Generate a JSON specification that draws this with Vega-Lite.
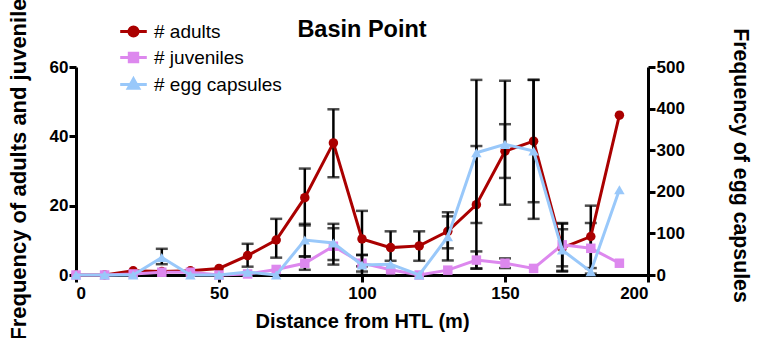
{
  "$schema": "https://vega.github.io/schema/vega-lite/v6.json",
  "autosize": {"type": "none"},
  "width": 572,
  "height": 208,
  "padding": {"left": 76, "top": 67, "right": 115, "bottom": 63},
  "background": "white",
  "title": {"text": "Basin Point", "fontSize": 23.5, "font": "Liberation Sans", "fontWeight": "bold", "color": "black", "anchor": "middle", "frame": "group", "offset": -56},
  "config": {
    "view": {"stroke": null},
    "axis": {"domainColor": "black", "domainWidth": 3, "tickColor": "black", "tickWidth": 3, "tickSize": 7, "labelFont": "Liberation Sans", "labelFontSize": 17, "labelFontWeight": "bold", "labelColor": "black", "titleFont": "Liberation Sans", "titleFontSize": 20, "titleFontWeight": "bold", "titleColor": "black", "grid": false, "labelPadding": 1}
  },
  "datasets": {
    "left": [
      {"d": 0, "s": "# adults", "v": 0},
      {"d": 10, "s": "# adults", "v": 0},
      {"d": 20, "s": "# adults", "v": 1.2},
      {"d": 30, "s": "# adults", "v": 1},
      {"d": 40, "s": "# adults", "v": 1.2},
      {"d": 50, "s": "# adults", "v": 1.9},
      {"d": 60, "s": "# adults", "v": 5.6, "lo": 2.4, "hi": 9},
      {"d": 70, "s": "# adults", "v": 10.1, "lo": 5, "hi": 16.2},
      {"d": 80, "s": "# adults", "v": 22.3, "lo": 14.3, "hi": 30.7},
      {"d": 90, "s": "# adults", "v": 38.1, "lo": 28.2, "hi": 47.8},
      {"d": 100, "s": "# adults", "v": 10.4, "lo": 2.5, "hi": 18.5},
      {"d": 110, "s": "# adults", "v": 7.9, "lo": 4.1, "hi": 12.6},
      {"d": 120, "s": "# adults", "v": 8.4, "lo": 4.1, "hi": 12.6},
      {"d": 130, "s": "# adults", "v": 12.6, "lo": 7.7, "hi": 18.1},
      {"d": 140, "s": "# adults", "v": 20.3, "lo": 1.9, "hi": 37.2},
      {"d": 150, "s": "# adults", "v": 35.7, "lo": 28, "hi": 43.5},
      {"d": 160, "s": "# adults", "v": 38.6, "lo": 21, "hi": 56.3},
      {"d": 170, "s": "# adults", "v": 7.8, "lo": 1, "hi": 15},
      {"d": 180, "s": "# adults", "v": 11.1, "lo": 2, "hi": 20},
      {"d": 190, "s": "# adults", "v": 46.1},
      {"d": 0, "s": "# juveniles", "v": 0},
      {"d": 10, "s": "# juveniles", "v": 0},
      {"d": 20, "s": "# juveniles", "v": 0.3},
      {"d": 30, "s": "# juveniles", "v": 0.8},
      {"d": 40, "s": "# juveniles", "v": 0.8},
      {"d": 50, "s": "# juveniles", "v": 0},
      {"d": 60, "s": "# juveniles", "v": 0.3},
      {"d": 70, "s": "# juveniles", "v": 1.6},
      {"d": 80, "s": "# juveniles", "v": 3.4, "lo": 1.5, "hi": 5.3},
      {"d": 90, "s": "# juveniles", "v": 8.3, "lo": 3, "hi": 13.5},
      {"d": 100, "s": "# juveniles", "v": 3.4, "lo": 1, "hi": 5.8},
      {"d": 110, "s": "# juveniles", "v": 1.5},
      {"d": 120, "s": "# juveniles", "v": 0},
      {"d": 130, "s": "# juveniles", "v": 1.4},
      {"d": 140, "s": "# juveniles", "v": 4.3, "lo": 1.8, "hi": 6.8},
      {"d": 150, "s": "# juveniles", "v": 3.4, "lo": 2, "hi": 4.8},
      {"d": 160, "s": "# juveniles", "v": 1.9},
      {"d": 170, "s": "# juveniles", "v": 8.7, "lo": 2.5, "hi": 14.8},
      {"d": 180, "s": "# juveniles", "v": 7.7, "lo": 0.4, "hi": 15},
      {"d": 190, "s": "# juveniles", "v": 3.4}
    ],
    "eggs": [
      {"d": 0, "s": "# egg capsules", "v": 0},
      {"d": 10, "s": "# egg capsules", "v": 0},
      {"d": 20, "s": "# egg capsules", "v": 0},
      {"d": 30, "s": "# egg capsules", "v": 42, "lo": 26, "hi": 63},
      {"d": 40, "s": "# egg capsules", "v": 0},
      {"d": 50, "s": "# egg capsules", "v": 0},
      {"d": 60, "s": "# egg capsules", "v": 7},
      {"d": 70, "s": "# egg capsules", "v": 0},
      {"d": 80, "s": "# egg capsules", "v": 84, "lo": 45, "hi": 123},
      {"d": 90, "s": "# egg capsules", "v": 77, "lo": 36, "hi": 123},
      {"d": 100, "s": "# egg capsules", "v": 24, "lo": 0, "hi": 48},
      {"d": 110, "s": "# egg capsules", "v": 26},
      {"d": 120, "s": "# egg capsules", "v": 0},
      {"d": 130, "s": "# egg capsules", "v": 92, "lo": 35, "hi": 141},
      {"d": 140, "s": "# egg capsules", "v": 294, "lo": 125, "hi": 469},
      {"d": 150, "s": "# egg capsules", "v": 314, "lo": 169, "hi": 467},
      {"d": 160, "s": "# egg capsules", "v": 298, "lo": 135, "hi": 469},
      {"d": 170, "s": "# egg capsules", "v": 60, "lo": 10, "hi": 110},
      {"d": 180, "s": "# egg capsules", "v": 8},
      {"d": 190, "s": "# egg capsules", "v": 205}
    ]
  },
  "encoding": {
    "x": {"field": "d", "type": "quantitative", "scale": {"domain": [0, 200], "nice": false}, "axis": {"values": [0, 50, 100, 150, 200], "title": "Distance from HTL (m)", "labelPadding": 3, "titlePadding": 10}}
  },
  "layer": [
    {
      "data": {"name": "left"},
      "encoding": {
        "y": {"field": "v", "type": "quantitative", "scale": {"domain": [0, 60], "nice": false}, "axis": {"orient": "left", "values": [0, 20, 40, 60], "title": "Frequency of adults and juveniles", "titleFontSize": 22, "titlePadding": 19, "titleY": 96}}
      },
      "layer": [
        {"transform": [{"filter": "isValid(datum.lo)"}], "mark": {"type": "rule", "color": "black", "strokeWidth": 2.5}, "encoding": {"y": {"field": "lo", "type": "quantitative"}, "y2": {"field": "hi"}}},
        {"transform": [{"filter": "isValid(datum.lo)"}], "mark": {"type": "tick", "orient": "horizontal", "color": "black", "size": 12, "thickness": 2.5}, "encoding": {"y": {"field": "lo", "type": "quantitative"}}},
        {"transform": [{"filter": "isValid(datum.hi)"}], "mark": {"type": "tick", "orient": "horizontal", "color": "black", "size": 12, "thickness": 2.5}, "encoding": {"y": {"field": "hi", "type": "quantitative"}}},
        {"mark": {"type": "line", "strokeWidth": 3}, "encoding": {
          "color": {"field": "s", "type": "nominal", "scale": {"domain": ["# adults", "# juveniles", "# egg capsules"], "range": ["#AA0000", "#DD88EE", "#99C8FA"]},
            "legend": {"orient": "none", "legendX": 48, "legendY": -45, "title": null, "labelFontSize": 19, "labelFont": "Liberation Sans", "labelColor": "black", "symbolSize": 196, "symbolStrokeWidth": 3, "rowPadding": 4, "labelOffset": 11, "padding": 0,
              "encode": {"symbols": {"update": {
                "shape": {"signal": "datum.value === '# adults' ? 'M-1.9,0H1.9M-0.65,0A0.65,0.65 0 1 0 0.65,0A0.65,0.65 0 1 0 -0.65,0Z' : datum.value === '# juveniles' ? 'M-1.9,0H1.9M-0.6,-0.6H0.6V0.6H-0.6Z' : 'M-1.9,0H1.9M0,-0.8L0.75,0.55H-0.75Z'"},
                "fill": {"signal": "scale('color', datum.value)"},
                "stroke": {"signal": "scale('color', datum.value)"},
                "strokeWidth": {"value": 3},
                "opacity": {"value": 1}
              }}}}}
        }},
        {"transform": [{"filter": "datum.s === '# adults'"}], "mark": {"type": "point", "filled": true, "size": 90, "opacity": 1, "shape": "circle", "color": "#AA0000"}},
        {"transform": [{"filter": "datum.s === '# juveniles'"}], "mark": {"type": "point", "filled": true, "size": 90, "opacity": 1, "shape": "square", "color": "#DD88EE"}}
      ]
    },
    {
      "data": {"name": "eggs"},
      "encoding": {
        "y": {"field": "v", "type": "quantitative", "scale": {"domain": [0, 500], "nice": false}, "axis": {"orient": "right", "values": [0, 100, 200, 300, 400, 500], "title": "Frequency of egg capsules", "titleAngle": 90, "titleFontSize": 21.3, "titlePadding": 45, "titleY": 98}}
      },
      "layer": [
        {"transform": [{"filter": "isValid(datum.lo)"}], "mark": {"type": "rule", "color": "black", "strokeWidth": 2.5}, "encoding": {"y": {"field": "lo", "type": "quantitative"}, "y2": {"field": "hi"}}},
        {"transform": [{"filter": "isValid(datum.lo)"}], "mark": {"type": "tick", "orient": "horizontal", "color": "black", "size": 12, "thickness": 2.5}, "encoding": {"y": {"field": "lo", "type": "quantitative"}}},
        {"transform": [{"filter": "isValid(datum.hi)"}], "mark": {"type": "tick", "orient": "horizontal", "color": "black", "size": 12, "thickness": 2.5}, "encoding": {"y": {"field": "hi", "type": "quantitative"}}},
        {"mark": {"type": "line", "strokeWidth": 3}, "encoding": {
          "color": {"field": "s", "type": "nominal"}
        }},
        {"mark": {"type": "point", "filled": true, "size": 110, "opacity": 1, "shape": "triangle-up", "color": "#99C8FA"}}
      ]
    }
  ],
  "resolve": {"scale": {"y": "independent"}}
}
